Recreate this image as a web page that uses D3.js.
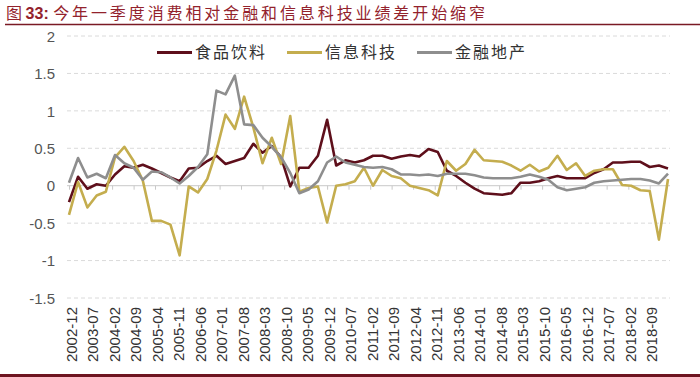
<!DOCTYPE html>
<html>
<head>
<meta charset="utf-8">
<script src="https://cdn.jsdelivr.net/npm/d3@7"></script>
<style>
  body { margin: 0; background: #fff; }
  svg { display: block; }
</style>
</head>
<body>
<div class="chart"></div>
<script>
// Data (quarterly, 2002-12 .. 2019-03)
const firstQuarter = "2002-12";
const lastQuarter = "2019-03";

const food = [-0.22, 0.12, -0.04, 0.02, 0.00, 0.15, 0.26, 0.24, 0.28, 0.23,
  0.17, 0.11, 0.06, 0.23, 0.24, 0.33, 0.40, 0.29, 0.33, 0.37,
  0.56, 0.44, 0.53, 0.38, -0.01, 0.24, 0.24, 0.40, 0.88, 0.27,
  0.34, 0.31, 0.34, 0.40, 0.40, 0.36, 0.39, 0.41, 0.39, 0.49,
  0.45, 0.20, 0.13, 0.04, -0.04, -0.10, -0.11, -0.12, -0.10, 0.04,
  0.04, 0.06, 0.10, 0.13, 0.10, 0.10, 0.10, 0.17, 0.22, 0.31,
  0.31, 0.32, 0.32, 0.25, 0.27, 0.23];

const tech = [-0.39, 0.05, -0.29, -0.13, -0.08, 0.38, 0.52, 0.33, 0.07, -0.47,
  -0.47, -0.52, -0.93, -0.01, -0.09, 0.09, 0.47, 0.95, 0.76, 1.19,
  0.78, 0.30, 0.64, 0.29, 0.93, -0.08, -0.03, -0.01, -0.49, 0.00,
  0.02, 0.06, 0.24, 0.00, 0.21, 0.13, 0.10, 0.00, -0.03, -0.06,
  -0.13, 0.33, 0.20, 0.29, 0.48, 0.34, 0.33, 0.32, 0.27, 0.20,
  0.28, 0.19, 0.24, 0.40, 0.21, 0.30, 0.13, 0.20, 0.22, 0.22,
  0.01, 0.00, -0.06, -0.07, -0.72, 0.09];

const finance = [0.04, 0.37, 0.11, 0.16, 0.10, 0.41, 0.30, 0.24, 0.08, 0.19,
  0.18, 0.11, 0.03, 0.13, 0.25, 0.42, 1.27, 1.22, 1.47, 0.82,
  0.81, 0.64, 0.52, 0.38, 0.17, -0.10, -0.05, 0.06, 0.31, 0.39,
  0.31, 0.28, 0.25, 0.24, 0.25, 0.22, 0.15, 0.15, 0.14, 0.15,
  0.13, 0.16, 0.16, 0.16, 0.14, 0.11, 0.10, 0.10, 0.10, 0.12,
  0.15, 0.12, 0.08, -0.02, -0.06, -0.04, -0.02, 0.04, 0.06, 0.07,
  0.08, 0.09, 0.09, 0.07, 0.03, 0.16];

const seriesNames = ["食品饮料", "信息科技", "金融地产"];
const seriesColors = ["#5e0f1b", "#c4ad4e", "#8e8e8e"];

const tickLabels = ["2002-12", "2003-07", "2004-02", "2004-09", "2005-04", "2005-11",
  "2006-06", "2007-01", "2007-08", "2008-03", "2008-10", "2009-05", "2009-12",
  "2010-07", "2011-02", "2011-09", "2012-04", "2012-11", "2013-06", "2014-01",
  "2014-08", "2015-03", "2015-10", "2016-05", "2016-12", "2017-07", "2018-02", "2018-09"];

const yTicks = [-1.5, -1, -0.5, 0, 0.5, 1, 1.5, 2];

const titleText = "今年一季度消费相对金融和信息科技业绩差开始缩窄";

// Mesures
const size = { width: 700, height: 377 };
const plot = { left: 69, right: 668, top: 36, bottom: 298, gridLeft: 67, gridRight: 670 };

const parseMonth = d3.timeParse("%Y-%m");
const quarters = d3.timeMonth.range(parseMonth(firstQuarter),
  d3.timeMonth.offset(parseMonth(lastQuarter), 1), 3);

const svg = d3.select(".chart")
  .append("svg")
  .attr("width", size.width)
  .attr("height", size.height);

const x = d3.scaleTime()
  .domain([parseMonth(firstQuarter), parseMonth(lastQuarter)])
  .range([plot.left, plot.right]);

const y = d3.scaleLinear()
  .domain([-1.5, 2])
  .range([plot.bottom, plot.top]);

// Title
const title = svg.append("text")
  .attr("x", 6)
  .attr("y", 19)
  .attr("fill", "#93222c")
  .attr("font-family", "'Noto Sans CJK SC', sans-serif")
  .attr("font-size", 16);
title.append("tspan").text("图 ");
title.append("tspan")
  .attr("font-family", "'Liberation Sans', Arial, sans-serif")
  .attr("font-weight", "bold")
  .text("33:  ");
title.append("tspan")
  .attr("letter-spacing", 2.9)
  .text(titleText);

svg.append("line")
  .attr("x1", 5).attr("x2", size.width)
  .attr("y1", 24.5).attr("y2", 24.5)
  .attr("stroke", "#7a1a24")
  .attr("stroke-width", 1.5);

svg.append("rect")
  .attr("x", 0).attr("y", 374)
  .attr("width", size.width).attr("height", 3)
  .attr("fill", "#6e1420");

// Grid
const grid = svg.append("g");
grid.selectAll("line")
  .data(yTicks.filter(d => d !== 0))
  .join("line")
  .attr("x1", plot.gridLeft).attr("x2", plot.gridRight)
  .attr("y1", d => y(d)).attr("y2", d => y(d))
  .attr("stroke", "#dadada")
  .attr("stroke-width", 1)
  .attr("stroke-dasharray", "4,3");

// Y axis labels
const yAxis = svg.append("g")
  .attr("transform", `translate(${plot.left - 14},0)`)
  .call(d3.axisLeft(y).tickValues(yTicks).tickSize(0).tickPadding(0)
    .tickFormat(d => String(d).replace("\u2212", "-")));
yAxis.select(".domain").remove();
yAxis.selectAll("text")
  .attr("font-family", "'Liberation Sans', Arial, sans-serif")
  .attr("font-size", 15)
  .attr("fill", "#555")
  .attr("dy", "0.35em");

// X axis on the zero line
const xAxis = svg.append("g")
  .attr("transform", `translate(0,${y(0)})`)
  .call(d3.axisBottom(x)
    .tickValues(tickLabels.map(parseMonth))
    .tickSize(4)
    .tickFormat(d3.timeFormat("%Y-%m")));
xAxis.select(".domain")
  .attr("d", `M${plot.gridLeft},0H${plot.gridRight}`)
  .attr("stroke", "#c8c8c8");
xAxis.selectAll(".tick line").attr("stroke", "#c8c8c8");
xAxis.selectAll(".tick text")
  .attr("font-family", "'Liberation Sans', Arial, sans-serif")
  .attr("font-size", 15)
  .attr("fill", "#333")
  .attr("text-anchor", "end")
  .attr("transform", d => `translate(2,${y(-1.5) - y(0) + 9}) rotate(-90)`)
  .attr("x", 0)
  .attr("y", 0)
  .attr("dy", "0.35em");

// Lines
const lineGen = d3.line()
  .x((d, i) => x(quarters[i]))
  .y(d => y(d));

const allSeries = [food, tech, finance];
const order = [0, 1, 2];
svg.append("g")
  .selectAll("path")
  .data(order)
  .join("path")
  .attr("d", i => lineGen(allSeries[i]))
  .attr("fill", "none")
  .attr("stroke", i => seriesColors[i])
  .attr("stroke-width", 2.6)
  .attr("stroke-linejoin", "round");

// Legend
const legendX = [157, 287, 417];
const legend = svg.append("g");
const items = legend.selectAll("g")
  .data(seriesNames)
  .join("g")
  .attr("transform", (d, i) => `translate(${legendX[i]},52.5)`);
items.append("line")
  .attr("x1", 0).attr("x2", 35)
  .attr("stroke", (d, i) => seriesColors[i])
  .attr("stroke-width", 3);
items.append("text")
  .attr("x", 38)
  .attr("dy", "0.36em")
  .attr("font-family", "'Noto Sans CJK SC', sans-serif")
  .attr("font-size", 16)
  .attr("letter-spacing", 2)
  .attr("fill", "#333")
  .text(d => d);
</script>
</body>
</html>
